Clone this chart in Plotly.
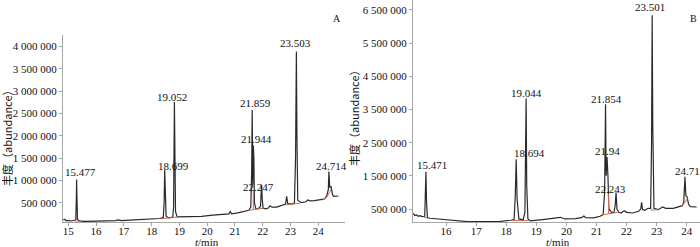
import plotly.graph_objects as go

# ---------------- Panel A data ----------------
A_time = [14.82, 14.87, 14.92, 15.00, 15.10, 15.20, 15.27, 15.29, 15.30, 15.31, 15.33, 15.40,
          15.60, 16.00, 16.40, 16.70, 16.80, 16.90, 17.20, 17.60, 18.00, 18.30, 18.42, 18.45,
          18.47, 18.49, 18.52, 18.60, 18.76, 18.79, 18.82, 18.84, 18.86, 18.92, 19.30, 19.80,
          20.20, 20.60, 20.78, 20.83, 20.88, 21.10, 21.35, 21.50, 21.57, 21.60, 21.62, 21.64,
          21.66, 21.68, 21.70, 21.75, 21.85, 21.92, 21.94, 21.96, 21.98, 22.01, 22.10, 22.20,
          22.26, 22.33, 22.50, 22.70, 22.82, 22.86, 22.90, 23.05, 23.14, 23.18, 23.21, 23.23,
          23.26, 23.40, 23.55, 23.62, 23.70, 23.85, 24.05, 24.20, 24.30, 24.36, 24.38, 24.41,
          24.46, 24.51, 24.56, 24.72]
A_abund = [110000, 130000, 95000, 105000, 90000, 100000, 110000, 600000, 1020000, 700000, 130000, 90000,
           80000, 85000, 90000, 100000, 115000, 100000, 110000, 120000, 130000, 145000, 170000, 500000,
           1230000, 600000, 200000, 160000, 175000, 400000, 2760000, 1500000, 300000, 180000, 185000, 195000,
           220000, 240000, 250000, 300000, 250000, 270000, 300000, 330000, 400000, 1200000, 2580000, 900000,
           1790000, 1500000, 500000, 360000, 370000, 420000, 700000, 900000, 600000, 380000, 360000, 380000,
           430000, 400000, 400000, 440000, 470000, 640000, 480000, 470000, 490000, 1500000, 3890000, 2000000,
           550000, 500000, 520000, 560000, 540000, 545000, 560000, 580000, 640000, 800000, 1200000, 850000,
           860000, 680000, 640000, 650000]
A_base_time = [15.22, 15.40, None, 18.35, 18.55, 18.75, 18.95, None, 21.50, 21.66, 21.66, None,
               21.66, 21.90, 22.02, None, 22.80, 23.10, 23.35, None, 24.15, 24.30, 24.40, 24.45]
A_base_abund = [95000, 85000, None, 140000, 155000, 170000, 180000, None, 330000, 345000, 780000, None,
                345000, 370000, 375000, None, 450000, 470000, 490000, None, 560000, 620000, 720000, 800000]
A_label_text = ["15.477", "18.699", "19.052", "21.859", "21.944", "22.247", "23.503", "24.714"]
A_label_time = [15.45, 18.80, 18.73, 21.73, 21.78, 21.84, 23.19, 24.49]
A_label_abund = [1180000, 1330000, 2880000, 2730000, 1930000, 860000, 4070000, 1330000]
A_ytick_vals = [500000, 1000000, 1500000, 2000000, 2500000, 3000000, 3500000, 4000000]
A_ytick_text = ["500 000", "1 000 000", "1 500 000", "2 000 000", "2 500 000", "3 000 000", "3 500 000", "4 000 000"]
A_xtick_vals = [15, 16, 17, 18, 19, 20, 21, 22, 23, 24]

# ---------------- Panel B data ----------------
B_time = [14.91, 14.96, 15.02, 15.08, 15.14, 15.20, 15.29, 15.31, 15.33, 15.35, 15.38, 15.47,
          15.90, 16.35, 16.70, 17.30, 17.80, 18.15, 18.26, 18.30, 18.33, 18.36, 18.42, 18.56,
          18.62, 18.66, 18.68, 18.72, 18.80, 19.20, 19.46, 19.60, 19.80, 19.95, 20.30, 20.50,
          20.58, 20.64, 20.90, 21.12, 21.22, 21.27, 21.30, 21.32, 21.35, 21.38, 21.41, 21.50,
          21.58, 21.62, 21.65, 21.68, 21.74, 21.82, 21.92, 22.00, 22.20, 22.40, 22.47, 22.50,
          22.53, 22.60, 22.72, 22.80, 22.83, 22.85, 22.87, 22.91, 23.05, 23.20, 23.30, 23.55,
          23.70, 23.85, 23.90, 23.94, 23.97, 24.01, 24.06, 24.12, 24.33]
B_abund = [370000, 300000, 320000, 280000, 300000, 270000, 280000, 800000, 1620000, 700000, 240000, 220000,
           180000, 140000, 120000, 120000, 125000, 160000, 180000, 900000, 2000000, 800000, 200000, 170000,
           400000, 3830000, 1200000, 200000, 140000, 180000, 210000, 220000, 250000, 200000, 210000, 240000,
           290000, 240000, 230000, 280000, 330000, 1000000, 3660000, 1500000, 2070000, 1500000, 500000, 400000,
           400000, 600000, 1000000, 500000, 400000, 380000, 450000, 400000, 380000, 430000, 500000, 700000,
           480000, 460000, 520000, 520000, 2500000, 6340000, 3000000, 520000, 480000, 560000, 520000, 520000,
           560000, 600000, 700000, 1470000, 900000, 870000, 640000, 570000, 560000]
B_base_time = [15.25, 15.42, None, 18.20, 18.45, 18.75, None, 21.18, 21.45, 21.70, None,
               21.40, 21.40, None, 22.80, 23.05, None, 23.82, 23.95, 24.02]
B_base_abund = [260000, 220000, None, 150000, 160000, 150000, None, 320000, 360000, 400000, None,
                365000, 950000, None, 470000, 480000, None, 600000, 700000, 820000]
B_label_text = ["15.471", "18.694", "19.044", "21.854", "21.94", "22.243", "23.501", "24.71"]
B_label_time = [15.52, 18.77, 18.68, 21.32, 21.38, 21.48, 22.79, 24.02]
B_label_abund = [1830000, 2180000, 4000000, 3830000, 2250000, 1090000, 6580000, 1650000]
B_ytick_vals = [500000, 1500000, 2500000, 3500000, 4500000, 5500000, 6500000]
B_ytick_text = ["500 000", "1 500 000", "2 500 000", "3 500 000", "4 500 000", "5 500 000", "6 500 000"]
B_xtick_vals = [16, 17, 18, 19, 20, 21, 22, 23, 24]

W, H = 700, 247
SERIF = "Times New Roman, Liberation Serif, serif"
TRACE = "#2a2a2a"
RED = "#cf6a52"
AXIS = "#a6a6a6"

fig = go.Figure()
fig.add_trace(go.Scatter(x=A_time, y=A_abund, mode="lines", line=dict(color=TRACE, width=1.2),
                         xaxis="x", yaxis="y", hoverinfo="skip"))
fig.add_trace(go.Scatter(x=A_base_time, y=A_base_abund, mode="lines", line=dict(color=RED, width=1),
                         xaxis="x", yaxis="y", connectgaps=False, hoverinfo="skip"))
fig.add_trace(go.Scatter(x=B_time, y=B_abund, mode="lines", line=dict(color=TRACE, width=1.2),
                         xaxis="x2", yaxis="y2", hoverinfo="skip"))
fig.add_trace(go.Scatter(x=B_base_time, y=B_base_abund, mode="lines", line=dict(color=RED, width=1),
                         xaxis="x2", yaxis="y2", connectgaps=False, hoverinfo="skip"))

annotations = []
for txt, t, v in zip(A_label_text, A_label_time, A_label_abund):
    annotations.append(dict(x=t, y=v, xref="x", yref="y", text=txt, showarrow=False,
                            xanchor="center", yanchor="middle",
                            font=dict(family=SERIF, size=11, color="#111")))
for txt, t, v in zip(B_label_text, B_label_time, B_label_abund):
    annotations.append(dict(x=t, y=v, xref="x2", yref="y2", text=txt, showarrow=False,
                            xanchor="center", yanchor="middle",
                            font=dict(family=SERIF, size=11, color="#111")))

def px(x):
    return x / W

def py(y):
    return 1 - y / H

# panel letters
annotations.append(dict(x=px(337), y=py(18), xref="paper", yref="paper", text="A", showarrow=False,
                        xanchor="center", yanchor="middle", font=dict(family=SERIF, size=10, color="#111")))
annotations.append(dict(x=px(693), y=py(18), xref="paper", yref="paper", text="B", showarrow=False,
                        xanchor="center", yanchor="middle", font=dict(family=SERIF, size=10, color="#111")))
# y titles
for cx, cy in [(7, 135), (354, 115)]:
    annotations.append(dict(x=px(cx), y=py(cy), xref="paper", yref="paper",
                            text="丰度（abundance）", showarrow=False, textangle=-90,
                            xanchor="center", yanchor="middle",
                            font=dict(family="Noto Sans CJK SC", size=11, color="#111")))
# x titles
for cx in [207, 558]:
    annotations.append(dict(x=px(cx), y=py(242), xref="paper", yref="paper",
                            text="<i>t</i>/min", showarrow=False,
                            xanchor="center", yanchor="middle",
                            font=dict(family=SERIF, size=11, color="#111")))

axis_common = dict(showgrid=False, zeroline=False, showline=True, linecolor=AXIS, linewidth=1,
                   ticks="outside", ticklen=3, tickcolor=AXIS,
                   tickfont=dict(family=SERIF, size=11, color="#111"))

fig.update_layout(
    width=W, height=H,
    margin=dict(l=0, r=0, t=0, b=0),
    paper_bgcolor="white", plot_bgcolor="white",
    showlegend=False,
    annotations=annotations,
    xaxis=dict(domain=[px(63), px(345)], range=[14.81, 24.96], tickvals=A_xtick_vals,
               anchor="y", ticklabelstandoff=-4, **axis_common),
    yaxis=dict(domain=[py(222), py(35)], range=[67000, 4260000], tickvals=A_ytick_vals,
               ticktext=A_ytick_text, anchor="x", **axis_common),
    xaxis2=dict(domain=[px(413), 1.0], range=[14.90, 24.44], tickvals=B_xtick_vals,
                anchor="y2", ticklabelstandoff=-4, **axis_common),
    yaxis2=dict(domain=[py(222), 1.0], range=[108000, 6800000], tickvals=B_ytick_vals,
                ticktext=B_ytick_text, anchor="x2", **axis_common),
)

fig.write_html("out.html",
               config={"displayModeBar": False},
               post_script="document.body.style.margin='0';document.body.style.overflow='hidden';")
